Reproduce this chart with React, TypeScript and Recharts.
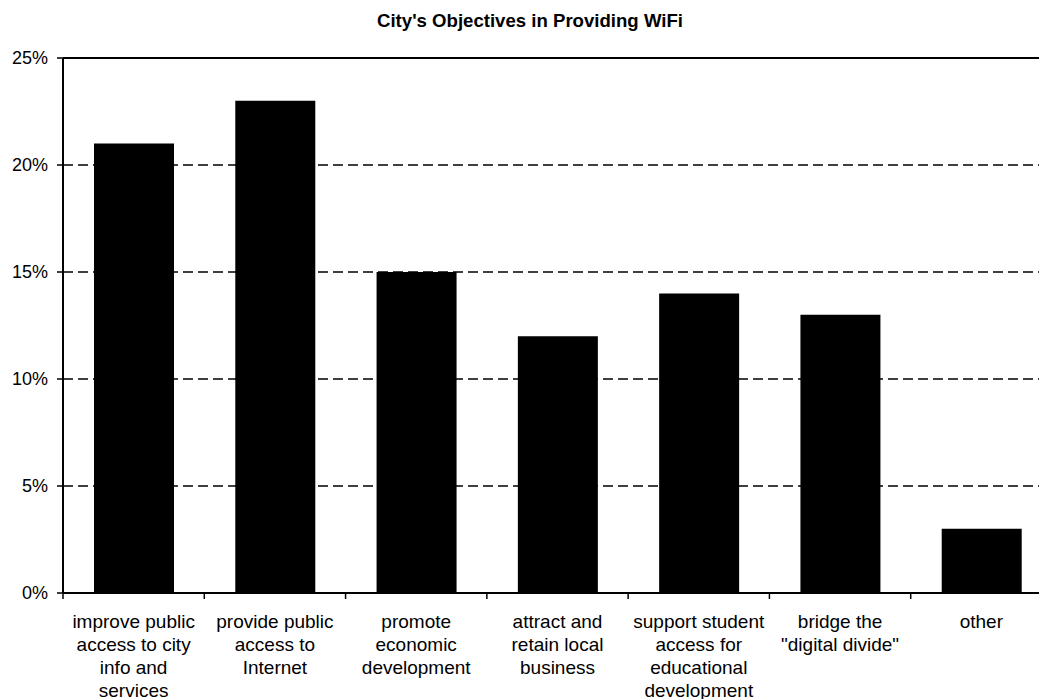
import React from "react";
import {
  BarChart,
  Bar,
  XAxis,
  YAxis,
  CartesianGrid,
  ReferenceLine,
} from "recharts";

// Objectives named by cities, as a share of all responses (%)
const categories: string[] = [
  "improve public\naccess to city\ninfo and\nservices",
  "provide public\naccess to\nInternet",
  "promote\neconomic\ndevelopment",
  "attract and\nretain local\nbusiness",
  "support student\naccess for\neducational\ndevelopment",
  "bridge the\n\"digital divide\"",
  "other",
];
const shares: number[] = [21, 23, 15, 12, 14, 13, 3];
const yTicks: number[] = [0, 5, 10, 15, 20, 25];
const chartTitle = "City's Objectives in Providing WiFi";

const data = categories.map((category, i) => ({ category, share: shares[i] }));

const FONT = "'Liberation Sans', Arial, Helvetica, sans-serif";

// Multi-line category label, plus a short tick mark on the left edge of the band
function CategoryTick(props: any) {
  const { x, y, payload } = props;
  const lines = String(payload.value).split("\n");
  const half = payload.offset ?? 70.6;
  return (
    <g>
      <line
        x1={x - half}
        x2={x - half}
        y1={y - 6}
        y2={y}
        stroke="#000"
        strokeWidth={1.5}
      />
      <text
        x={x}
        y={y}
        textAnchor="middle"
        fill="#000"
        fontSize={19}
        fontFamily={FONT}
      >
        {lines.map((line, i) => (
          <tspan key={i} x={x} y={y + 28.5 + i * 23}>
            {line}
          </tspan>
        ))}
      </text>
    </g>
  );
}

export default function App() {
  return (
    <div
      style={{
        position: "fixed",
        left: 0,
        top: 0,
        width: 1039,
        height: 699,
        overflow: "hidden",
        background: "#fff",
      }}
    >
      <BarChart
        width={1072}
        height={699}
        data={data}
        margin={{ top: 58, right: 20, left: 0, bottom: 0 }}
        barSize={80}
      >
        <CartesianGrid
          vertical={false}
          stroke="#000"
          strokeWidth={1.6}
          strokeDasharray="10 5"
        />
        <XAxis
          dataKey="category"
          type="category"
          height={106}
          interval={0}
          tickLine={false}
          tickSize={6}
          tickMargin={0}
          axisLine={{ stroke: "#000", strokeWidth: 2 }}
          tick={<CategoryTick />}
        />
        <YAxis
          type="number"
          domain={[0, 25]}
          ticks={yTicks}
          width={63}
          tickSize={6}
          tickMargin={9}
          tickFormatter={(v: number) => `${v}%`}
          axisLine={{ stroke: "#000", strokeWidth: 2 }}
          tickLine={{ stroke: "#000", strokeWidth: 1.5 }}
          tick={{ fill: "#000", fontSize: 18, fontFamily: FONT }}
        />
        <ReferenceLine y={25} stroke="#000" strokeWidth={2} />
        <Bar dataKey="share" fill="#000" isAnimationActive={false} />
      </BarChart>
      <svg
        width={1039}
        height={40}
        style={{ position: "absolute", left: 0, top: 0, pointerEvents: "none" }}
      >
        <text
          x={530}
          y={27}
          textAnchor="middle"
          fontFamily={FONT}
          fontWeight="bold"
          fontSize={18.6}
          fill="#000"
        >
          {chartTitle}
        </text>
      </svg>
    </div>
  );
}
